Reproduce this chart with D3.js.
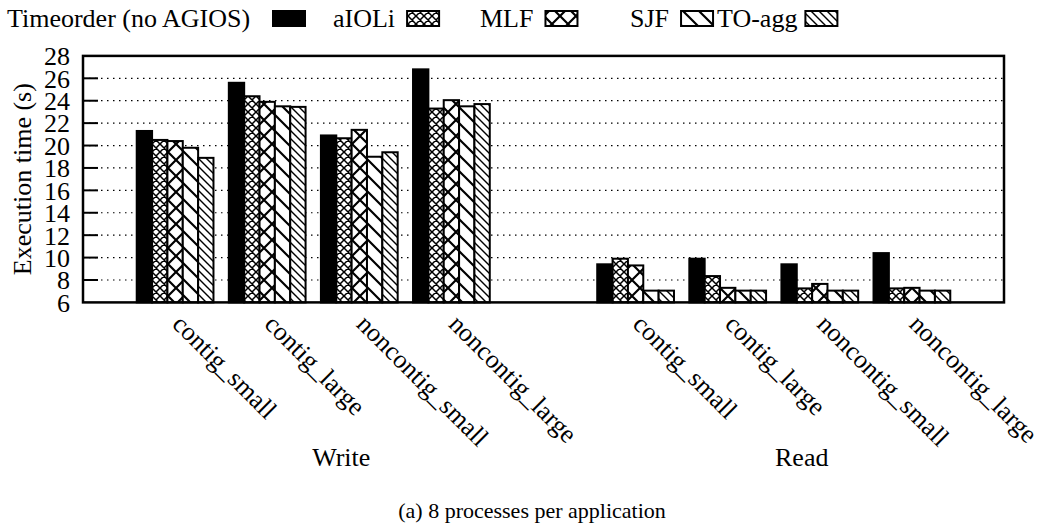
<!DOCTYPE html>
<html><head><meta charset="utf-8">
<script src="https://cdn.jsdelivr.net/npm/d3@7"></script>
<style>
body{margin:0;background:#fff}
svg{display:block}
text{font-family:"Liberation Serif","Times New Roman",serif;fill:#000}
</style>
</head><body>
<svg id="chart" width="1040" height="529"></svg>
<script>
// ---------- data ----------
const seriesNames = ["Timeorder (no AGIOS)", "aIOLi", "MLF", "SJF", "TO-agg"];
const groupNames = ["Write", "Read"];
const categories = ["contig_small", "contig_large", "noncontig_small", "noncontig_large"];
// values: Write (4 categories) then Read (4 categories)
const timeorderValues = [21.3, 25.6, 20.9, 26.8, 9.4, 9.9, 9.4, 10.4];
const aioliValues     = [20.5, 24.4, 20.65, 23.3, 9.9, 8.35, 7.25, 7.25];
const mlfValues       = [20.4, 23.9, 21.4, 24.05, 9.3, 7.3, 7.65, 7.3];
const sjfValues       = [19.8, 23.5, 19.0, 23.5, 7.05, 7.05, 7.05, 7.05];
const toaggValues     = [18.9, 23.45, 19.4, 23.7, 7.05, 7.05, 7.05, 7.05];
const yTickValues = [6, 8, 10, 12, 14, 16, 18, 20, 22, 24, 26, 28];
const captionText = "(a) 8 processes per application";
const yLabel = "Execution time (s)";

const seriesValues = [timeorderValues, aioliValues, mlfValues, sjfValues, toaggValues];

// ---------- layout ----------
const svg = d3.select("#chart");
const L = 83, R = 1004, T = 55.9, B = 302.4;
const FS = 26;

const x = d3.scaleLinear().domain([-1, 9]).range([L, R]);
const y = d3.scaleLinear().domain([6, 28]).range([B, T]);
const bw = (x(1) - x(0)) / 6;

// slot index of each of the 8 bar clusters (gap slot between Write and Read)
const slots = [0, 1, 2, 3, 5, 6, 7, 8];

// ---------- patterns ----------
const defs = svg.append("defs");
function crossPattern(id, p, sw) {
  const pat = defs.append("pattern").attr("id", id).attr("patternUnits", "userSpaceOnUse")
    .attr("width", p).attr("height", p);
  pat.append("rect").attr("width", p).attr("height", p).attr("fill", "#fff");
  pat.append("path").attr("d",
    `M0,0L${p},${p}M${p},0L0,${p}` +
    `M-1,1L1,-1M${p-1},${p+1}L${p+1},${p-1}M-1,${p-1}L1,${p+1}M${p-1},-1L${p+1},1`)
    .attr("stroke", "#000").attr("stroke-width", sw).attr("fill", "none");
}
function backPattern(id, p, sw) {
  const pat = defs.append("pattern").attr("id", id).attr("patternUnits", "userSpaceOnUse")
    .attr("width", p).attr("height", p);
  pat.append("rect").attr("width", p).attr("height", p).attr("fill", "#fff");
  pat.append("path").attr("d",
    `M-1,-1L${p+1},${p+1}M-2,${p-2}L2,${p+2}M${p-2},-2L${p+2},2`)
    .attr("stroke", "#000").attr("stroke-width", sw).attr("fill", "none");
}
crossPattern("pFineX", 8, 1.5);
crossPattern("pCoarseX", 16, 2.2);
backPattern("pCoarseB", 16, 2.2);
backPattern("pFineB", 8, 1.4);
const fills = ["#000", "url(#pFineX)", "url(#pCoarseX)", "url(#pCoarseB)", "url(#pFineB)"];

// ---------- grid ----------
const grid = svg.append("g");
yTickValues.filter(v => v > 6 && v < 28).forEach(v => {
  grid.append("line").attr("x1", L).attr("x2", R).attr("y1", y(v)).attr("y2", y(v))
    .attr("stroke", "#000").attr("stroke-width", 1.2).attr("stroke-dasharray", "1.5 4.5");
  grid.append("line").attr("x1", L).attr("x2", L + 15).attr("y1", y(v)).attr("y2", y(v))
    .attr("stroke", "#000").attr("stroke-width", 2);
});

// ---------- bars ----------
const bars = svg.append("g");
seriesValues.forEach((vals, si) => {
  bars.selectAll(null).data(vals).enter().append("rect")
    .attr("x", (d, i) => x(slots[i]) - 2.5 * bw + si * bw)
    .attr("y", d => y(d))
    .attr("width", bw)
    .attr("height", d => y(6) - y(d))
    .attr("fill", fills[si])
    .attr("stroke", "#000").attr("stroke-width", 2);
});

// ---------- frame ----------
svg.append("rect").attr("x", L).attr("y", T).attr("width", R - L).attr("height", B - T)
  .attr("fill", "none").attr("stroke", "#000").attr("stroke-width", 2.5);

// ---------- y axis ticks ----------
const yAxis = d3.axisLeft(y).tickValues(yTickValues).tickSize(0).tickPadding(13)
  .tickFormat(d3.format("d"));
const ya = svg.append("g").attr("transform", `translate(${L},0)`).call(yAxis);
ya.select(".domain").remove();
ya.selectAll("text").style("font-size", FS + "px").style("font-family", '"Liberation Serif",serif')
  .attr("dy", "0.34em");

svg.append("text").attr("transform", `translate(31,${(T + B) / 2}) rotate(-90)`)
  .attr("text-anchor", "middle").style("font-size", FS + "px").text(yLabel);

// ---------- category labels ----------
const catLabels = svg.append("g");
slots.forEach((s, i) => {
  catLabels.append("text")
    .attr("transform", `translate(${x(s) - 4},${B + 23}) rotate(45)`)
    .attr("text-anchor", "start").style("font-size", FS + "px")
    .text(categories[i % 4]);
});

// group labels
groupNames.forEach((g, gi) => {
  const c = gi === 0 ? (x(0) + x(3)) / 2 : (x(5) + x(8)) / 2;
  svg.append("text").attr("x", c + 28).attr("y", 466).attr("text-anchor", "middle")
    .style("font-size", FS + "px").text(g);
});

// caption
svg.append("text").attr("x", 532).attr("y", 518).attr("text-anchor", "middle")
  .style("font-size", "22px").text(captionText);

// ---------- legend ----------
const legendTextX = [7, 333, 480, 630, 717];
const legend = svg.append("g");
let prevEnd = 0;
seriesNames.forEach((n, i) => {
  const t = legend.append("text").attr("x", legendTextX[i]).attr("y", 27)
    .attr("text-anchor", "start").style("font-size", FS + "px").text(n);
  const tw = t.node().getComputedTextLength();
  const bx = i === 0 ? 273 : legendTextX[i] + tw + (i === 4 ? 8 : 12);
  legend.append("rect").attr("x", bx).attr("y", 11).attr("width", 32).attr("height", 15)
    .attr("fill", fills[i]).attr("stroke", "#000").attr("stroke-width", 2);
});
</script>
</body></html>
